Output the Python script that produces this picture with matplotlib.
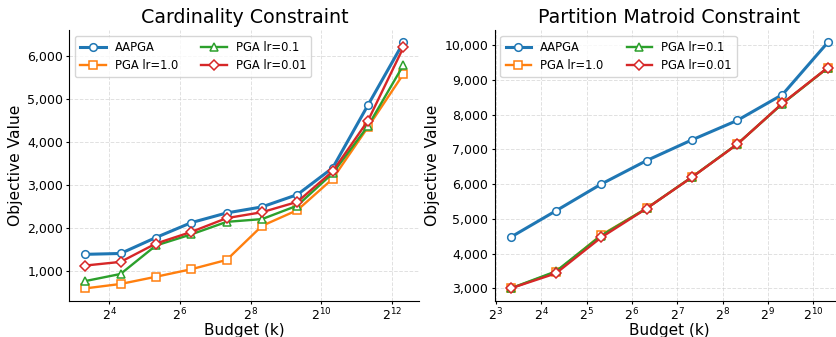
import numpy as np
import matplotlib.pyplot as plt
from matplotlib.ticker import FuncFormatter, NullLocator

# Budgets
budget_card = [10, 20, 40, 80, 160, 320, 640, 1280, 2560, 5120]
budget_part = [10, 20, 40, 80, 160, 320, 640, 1280]

# Cardinality constraint results
card_aapga = [1395, 1415, 1785, 2130, 2355, 2495, 2780, 3400, 4860, 6310]
card_pga_1 = [605, 708, 875, 1050, 1265, 2055, 2420, 3148, 4348, 5578]
card_pga_01 = [775, 940, 1600, 1858, 2148, 2212, 2525, 3275, 4375, 5785]
card_pga_001 = [1135, 1220, 1645, 1915, 2235, 2372, 2612, 3322, 4498, 6195]

# Partition matroid results
part_aapga = [4470, 5230, 6000, 6675, 7270, 7830, 8575, 10075]
part_pga_1 = [3000, 3470, 4535, 5300, 6200, 7145, 8320, 9345]
part_pga_01 = [3000, 3490, 4520, 5300, 6200, 7150, 8315, 9345]
part_pga_001 = [3000, 3432, 4465, 5297, 6195, 7144, 8325, 9350]

labels = ['AAPGA', 'PGA lr=1.0', 'PGA lr=0.1', 'PGA lr=0.01']
colors = ['#1f77b4', '#ff7f0e', '#2ca02c', '#d62728']
markers = ['o', 's', '^', 'D']

fig = plt.figure(figsize=(8.36, 3.37), dpi=100)
ax1 = fig.add_axes([0.0829, 0.1077, 0.4187, 0.803])
ax2 = fig.add_axes([0.5917, 0.1077, 0.4175, 0.803])

panels = [
    (ax1, budget_card, [card_aapga, card_pga_1, card_pga_01, card_pga_001],
     'Cardinality Constraint', [2**i for i in range(4, 13, 2)]),
    (ax2, budget_part, [part_aapga, part_pga_1, part_pga_01, part_pga_001],
     'Partition Matroid Constraint', [2**i for i in range(3, 11)]),
]

for ax, x, series, title, xt in panels:
    for i, y in enumerate(series):
        lw = 2.2 if i == 0 else 1.7
        ms = 5.5 if markers[i] != 'D' else 5
        ax.plot(x, y, color=colors[i], marker=markers[i], lw=lw, ms=ms,
                markerfacecolor='white', markeredgewidth=1.1, label=labels[i])
    ax.set_xscale('log', base=2)
    ax.set_xticks(xt)
    ax.xaxis.set_minor_locator(NullLocator())
    ax.yaxis.set_major_formatter(FuncFormatter(lambda v, p: f'{int(v):,}'))
    ax.grid(True, linestyle='--', color='#cccccc', alpha=0.6, lw=0.7)
    ax.spines['top'].set_visible(False)
    ax.spines['right'].set_visible(False)
    ax.tick_params(labelsize=9, length=2.5, pad=2)
    ax.set_title(title, fontsize=13.7, pad=5)
    ax.set_xlabel('Budget (k)', fontsize=11, labelpad=-0.5)
    ax.set_ylabel('Objective Value', fontsize=11.2, labelpad=3)
    ax.legend(ncol=2, fontsize=8.3, loc='upper left', handlelength=2.2,
              columnspacing=2.0, labelspacing=0.45, borderpad=0.45)

fig.savefig('out.png', dpi=100)
